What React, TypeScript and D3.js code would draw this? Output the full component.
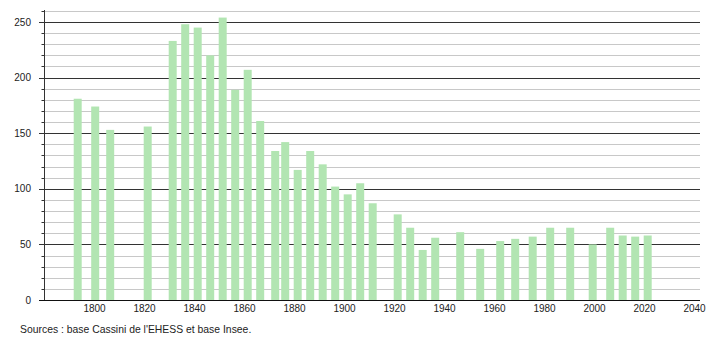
import React from "react";
import * as d3 from "d3";

const years = [1793, 1800, 1806, 1821, 1831, 1836, 1841, 1846, 1851, 1856, 1861, 1866, 1872, 1876, 1881, 1886, 1891, 1896, 1901, 1906, 1911, 1921, 1926, 1931, 1936, 1946, 1954, 1962, 1968, 1975, 1982, 1990, 1999, 2006, 2011, 2016, 2021];
const population = [181, 174, 153, 156, 233, 248, 245, 220, 254, 189, 207, 161, 134, 142, 117, 134, 122, 102, 95, 105, 87, 77, 65, 45, 56, 61, 46, 53, 55, 57, 65, 65, 50, 65, 58, 57, 58];
const xTicks = [1800, 1820, 1840, 1860, 1880, 1900, 1920, 1940, 1960, 1980, 2000, 2020, 2040];
const yMajor = [0, 50, 100, 150, 200, 250];
const sourceText = "Sources : base Cassini de l'EHESS et base Insee.";

const W = 710, H = 340;
const FONT = "'Liberation Sans', Arial, sans-serif";

export default function App() {
  const x = d3.scaleLinear().domain([1780, 2042]).range([44.5, 699.5]);
  const y = d3.scaleLinear().domain([0, 260]).range([300, 10.9]);
  const minor = d3.range(0, 261, 10).filter((v) => v % 50 !== 0);
  const barW = 8;
  return (
    <svg width={W} height={H} style={{ position: "absolute", left: 0, top: 0, background: "#fff" }} xmlns="http://www.w3.org/2000/svg">
      {minor.map((v) => (
        <g key={"m" + v}>
          <line x1={44} x2={700} y1={Math.round(y(v)) + 0.5} y2={Math.round(y(v)) + 0.5} stroke="#c8c8c8" strokeWidth={1} />
          <line x1={41.5} x2={44} y1={Math.round(y(v)) + 0.5} y2={Math.round(y(v)) + 0.5} stroke="#333" strokeWidth={1} />
        </g>
      ))}
      {yMajor.filter((v) => v > 0).map((v) => (
        <line key={"M" + v} x1={39} x2={700} y1={Math.round(y(v)) + 0.5} y2={Math.round(y(v)) + 0.5} stroke="#333" strokeWidth={1} />
      ))}
      {years.map((yr, i) => (
        <rect key={yr} x={x(yr) + 0.7 - barW / 2} y={y(population[i])} width={barW} height={y(0) - y(population[i])} fill="#b2e5b2" />
      ))}
      <line x1={44.5} x2={44.5} y1={10} y2={300} stroke="#333" strokeWidth={1} />
      <line x1={39} x2={700} y1={300.5} y2={300.5} stroke="#111" strokeWidth={1} />
      {yMajor.map((v) => (
        <text key={"t" + v} x={31} y={y(v) + 3.5} textAnchor="end" fontFamily={FONT} fontSize={10} fill="#222">{v}</text>
      ))}
      {xTicks.map((t) => (
        <text key={"x" + t} x={x(t)} y={312} textAnchor="middle" fontFamily={FONT} fontSize={10} fill="#222">{t}</text>
      ))}
      <text x={20} y={333} fontFamily={FONT} fontSize={10.4} fill="#222">{sourceText}</text>
    </svg>
  );
}
